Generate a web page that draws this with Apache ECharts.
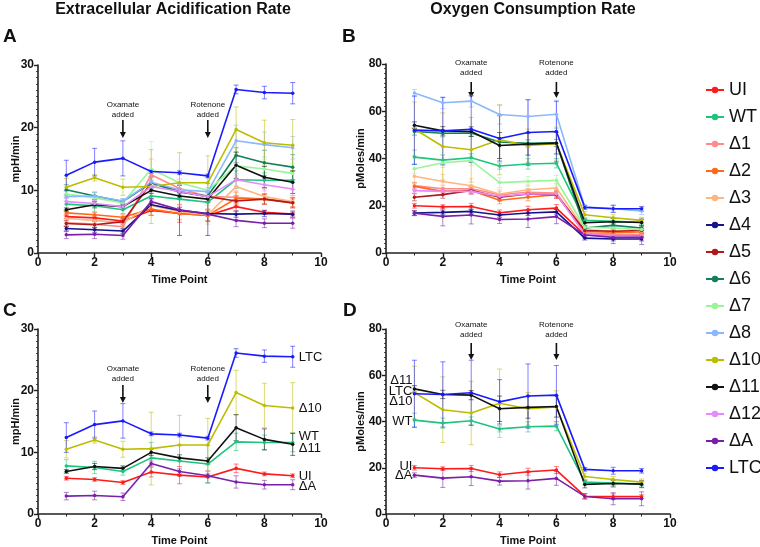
<!DOCTYPE html>
<html><head><meta charset="utf-8">
<script src="https://cdn.jsdelivr.net/npm/echarts/dist/echarts.min.js"></script>
<style>html,body{margin:0;padding:0;background:#fff}#c{width:760px;height:547px}</style>
</head><body><div id="c"></div>
<script>
// ---------- DATA ----------
const timePoints = [1, 2, 3, 4, 5, 6, 7, 8, 9];
const groups = ['UI','WT','Δ1','Δ2','Δ3','Δ4','Δ5','Δ6','Δ7','Δ8','Δ10','Δ11','Δ12','ΔA','LTC'];
const highlightGroups = ['UI','WT','Δ10','Δ11','ΔA','LTC'];
const xTicks = [0, 2, 4, 6, 8, 10];
const ecarTicks = [0, 10, 20, 30];
const ocrTicks = [0, 20, 40, 60, 80];

// ECAR (mpH/min) means
const ecar_UI  = [5.8, 5.6, 5.1, 6.8, 6.3, 6.0, 7.4, 6.5, 6.2];
const ecar_WT  = [7.8, 7.55, 6.9, 9.1, 8.6, 8.1, 11.7, 11.6, 11.6];
const ecar_D1  = [4.8, 4.6, 4.2, 12.5, 10.3, 9.0, 8.9, 8.6, 8.1];
const ecar_D2  = [6.4, 6.1, 5.7, 7.0, 6.3, 6.0, 8.7, 8.6, 8.0];
const ecar_D3  = [5.5, 5.2, 4.8, 7.6, 6.6, 6.1, 10.6, 9.0, 8.2];
const ecar_D4  = [3.9, 3.7, 3.5, 7.7, 6.8, 6.3, 6.2, 6.3, 6.2];
const ecar_D5  = [4.7, 4.5, 5.0, 11.2, 9.8, 9.0, 8.3, 8.6, 8.0];
const ecar_D6  = [10.1, 9.1, 8.2, 11.2, 9.7, 9.1, 15.6, 14.4, 13.7];
const ecar_D7  = [9.4, 8.8, 8.0, 13.4, 11.2, 10.0, 13.9, 13.4, 12.7];
const ecar_D8  = [9.0, 9.1, 8.3, 11.3, 10.1, 9.8, 17.9, 17.3, 16.8];
const ecar_D10 = [10.5, 12.0, 10.5, 10.6, 11.2, 11.2, 19.7, 17.6, 17.2];
const ecar_D11 = [6.9, 7.7, 7.4, 10.0, 9.1, 8.6, 14.0, 12.1, 11.3];
const ecar_D12 = [8.2, 7.9, 7.4, 10.6, 9.8, 9.0, 11.7, 10.9, 10.2];
const ecar_DA  = [2.9, 3.0, 2.8, 8.2, 6.9, 6.2, 5.2, 4.75, 4.75];
const ecar_LTC = [12.4, 14.5, 15.1, 13.0, 12.8, 12.3, 26.1, 25.6, 25.5];
// ECAR error (±)
const ecarErr_UI  = [0.3, 0.3, 0.3, 0.8, 1.4, 1.0, 0.7, 0.3, 0.3];
const ecarErr_WT  = [1.0, 1.0, 0.6, 2.5, 2.5, 3.0, 1.4, 1.2, 1.5];
const ecarErr_D1  = [0.6, 0.5, 0.5, 2.5, 1.5, 1.0, 1.0, 0.8, 0.8];
const ecarErr_D2  = [0.4, 0.4, 0.4, 1.0, 1.0, 0.8, 1.0, 0.8, 0.6];
const ecarErr_D3  = [0.5, 0.5, 0.5, 1.5, 1.2, 1.5, 1.5, 1.2, 1.0];
const ecarErr_D4  = [0.4, 0.4, 0.4, 1.0, 4.0, 3.5, 0.5, 0.5, 0.5];
const ecarErr_D5  = [0.5, 0.5, 0.5, 1.0, 1.0, 0.8, 0.8, 0.8, 0.8];
const ecarErr_D6  = [0.8, 0.6, 0.4, 0.8, 0.6, 0.5, 1.2, 2.0, 2.0];
const ecarErr_D7  = [1.0, 0.8, 0.6, 4.4, 2.0, 2.0, 1.5, 1.5, 1.5];
const ecarErr_D8  = [0.8, 0.6, 0.4, 1.0, 0.8, 0.6, 2.5, 2.0, 1.8];
const ecarErr_D10 = [1.4, 0.5, 1.3, 5.9, 4.8, 4.3, 3.6, 3.6, 4.1];
const ecarErr_D11 = [0.3, 0.5, 0.4, 0.5, 0.5, 0.5, 2.1, 1.7, 1.8];
const ecarErr_D12 = [0.5, 0.5, 0.5, 1.0, 1.0, 0.8, 1.0, 1.0, 1.0];
const ecarErr_DA  = [0.6, 0.7, 0.6, 0.4, 0.4, 0.3, 1.0, 0.7, 0.8];
const ecarErr_LTC = [2.4, 2.2, 2.8, 0.3, 0.3, 0.3, 0.7, 1.0, 1.7];

// OCR (pMoles/min) means
const ocr_UI  = [20.0, 19.6, 19.7, 17.0, 18.3, 19.0, 7.7, 7.5, 7.5];
const ocr_WT  = [40.6, 39.3, 40.3, 36.8, 37.7, 38.0, 13.8, 13.4, 13.0];
const ocr_D1  = [28.5, 27.2, 27.2, 24.7, 25.7, 25.4, 8.5, 8.0, 7.8];
const ocr_D2  = [28.2, 26.1, 26.5, 22.3, 23.6, 24.7, 9.2, 8.7, 8.9];
const ocr_D3  = [32.5, 30.3, 28.5, 25.0, 26.8, 27.5, 9.9, 9.2, 9.2];
const ocr_D4  = [16.9, 17.2, 17.6, 16.1, 16.9, 17.4, 6.3, 5.9, 5.9];
const ocr_D5  = [23.6, 24.7, 26.5, 23.6, 25.0, 24.7, 9.5, 9.2, 9.5];
const ocr_D6  = [51.4, 50.7, 50.8, 47.0, 46.4, 46.6, 10.6, 11.7, 10.6];
const ocr_D7  = [35.7, 38.2, 39.1, 29.8, 30.3, 30.8, 10.9, 10.6, 9.9];
const ocr_D8  = [67.7, 63.6, 64.3, 58.6, 57.8, 58.7, 19.5, 18.8, 17.8];
const ocr_D10 = [52.5, 45.1, 43.7, 47.9, 45.5, 46.3, 16.2, 14.9, 13.8];
const ocr_D11 = [54.1, 51.7, 51.4, 45.5, 46.1, 46.5, 12.8, 13.2, 12.9];
const ocr_D12 = [26.4, 26.1, 26.1, 24.0, 25.0, 25.0, 7.8, 7.3, 7.1];
const ocr_DA  = [16.8, 15.5, 16.1, 14.2, 14.4, 15.4, 7.6, 6.6, 6.6];
const ocr_LTC = [52.0, 51.7, 52.4, 48.5, 51.0, 51.4, 19.3, 18.7, 18.7];
// OCR error (±)
const ocrErr_UI  = [1.0, 0.8, 1.3, 1.2, 1.5, 1.5, 1.0, 1.2, 0.8];
const ocrErr_WT  = [3.0, 2.2, 1.7, 1.3, 2.2, 2.0, 1.0, 1.1, 1.0];
const ocrErr_D1  = [1.5, 1.5, 1.5, 1.5, 1.5, 1.5, 1.0, 1.0, 1.0];
const ocrErr_D2  = [1.5, 1.5, 1.5, 1.5, 1.5, 1.5, 1.0, 1.0, 1.0];
const ocrErr_D3  = [3.0, 3.0, 3.0, 2.0, 2.0, 2.0, 1.0, 1.0, 1.0];
const ocrErr_D4  = [1.0, 1.0, 1.0, 1.0, 1.0, 1.0, 0.8, 0.8, 0.8];
const ocrErr_D5  = [1.5, 1.5, 1.5, 1.5, 1.5, 1.5, 1.0, 1.0, 1.0];
const ocrErr_D6  = [1.5, 1.5, 1.5, 1.5, 1.5, 1.5, 1.0, 1.0, 1.0];
const ocrErr_D7  = [2.0, 2.0, 2.0, 2.0, 2.0, 2.0, 1.0, 1.0, 1.0];
const ocrErr_D8  = [1.5, 2.5, 2.5, 4.0, 7.0, 6.0, 1.0, 1.5, 1.5];
const ocrErr_D10 = [11.4, 14.2, 13.7, 14.8, 7.0, 7.0, 1.4, 1.3, 1.3];
const ocrErr_D11 = [1.4, 1.8, 2.0, 5.5, 4.7, 4.6, 1.5, 1.5, 1.5];
const ocrErr_D12 = [1.0, 1.0, 1.0, 1.0, 1.0, 1.0, 0.8, 0.8, 0.8];
const ocrErr_DA  = [1.0, 4.0, 3.8, 1.7, 3.6, 3.0, 1.2, 2.6, 3.0];
const ocrErr_LTC = [14.5, 14.1, 14.1, 9.6, 13.9, 12.8, 0.8, 1.5, 1.0];

// ---------- BUILD ----------
const ecarMean = {UI:ecar_UI,WT:ecar_WT,'Δ1':ecar_D1,'Δ2':ecar_D2,'Δ3':ecar_D3,'Δ4':ecar_D4,'Δ5':ecar_D5,'Δ6':ecar_D6,'Δ7':ecar_D7,'Δ8':ecar_D8,'Δ10':ecar_D10,'Δ11':ecar_D11,'Δ12':ecar_D12,'ΔA':ecar_DA,LTC:ecar_LTC};
const ecarErr = {UI:ecarErr_UI,WT:ecarErr_WT,'Δ1':ecarErr_D1,'Δ2':ecarErr_D2,'Δ3':ecarErr_D3,'Δ4':ecarErr_D4,'Δ5':ecarErr_D5,'Δ6':ecarErr_D6,'Δ7':ecarErr_D7,'Δ8':ecarErr_D8,'Δ10':ecarErr_D10,'Δ11':ecarErr_D11,'Δ12':ecarErr_D12,'ΔA':ecarErr_DA,LTC:ecarErr_LTC};
const ocrMean = {UI:ocr_UI,WT:ocr_WT,'Δ1':ocr_D1,'Δ2':ocr_D2,'Δ3':ocr_D3,'Δ4':ocr_D4,'Δ5':ocr_D5,'Δ6':ocr_D6,'Δ7':ocr_D7,'Δ8':ocr_D8,'Δ10':ocr_D10,'Δ11':ocr_D11,'Δ12':ocr_D12,'ΔA':ocr_DA,LTC:ocr_LTC};
const ocrErr = {UI:ocrErr_UI,WT:ocrErr_WT,'Δ1':ocrErr_D1,'Δ2':ocrErr_D2,'Δ3':ocrErr_D3,'Δ4':ocrErr_D4,'Δ5':ocrErr_D5,'Δ6':ocrErr_D6,'Δ7':ocrErr_D7,'Δ8':ocrErr_D8,'Δ10':ocrErr_D10,'Δ11':ocrErr_D11,'Δ12':ocrErr_D12,'ΔA':ocrErr_DA,LTC:ocrErr_LTC};

const colors = {UI:'#ff1a1a',WT:'#1ec47e','Δ1':'#ff8a8a','Δ2':'#ff6a1a','Δ3':'#ffb580','Δ4':'#14148c','Δ5':'#b01a1a','Δ6':'#12805a','Δ7':'#9af59a','Δ8':'#8ab8ff','Δ10':'#bdbd00','Δ11':'#111111','Δ12':'#e68aff','ΔA':'#7a1fa8',LTC:'#1a1aff'};

const FONT = 'Liberation Sans, Arial, Helvetica, sans-serif';
const grids = [
  {left:38, top:65, width:283, height:188},
  {left:386, top:64, width:284, height:189},
  {left:38, top:329, width:283, height:189},
  {left:386, top:329, width:284, height:189}
];

function xAxis(i){
  return {gridIndex:i, type:'value', min:0, max:10, interval:xTicks[1]-xTicks[0],
    name:'Time Point', nameLocation:'middle', nameGap:21,
    nameTextStyle:{fontFamily:FONT, fontWeight:'bold', fontSize:11, color:'#111'},
    axisLine:{show:true, lineStyle:{color:'#222', width:1.6}},
    axisTick:{show:true, length:4, lineStyle:{color:'#222', width:1.4}},
    minorTick:{show:true, splitNumber:2, length:2.5, lineStyle:{color:'#222', width:1}},
    axisLabel:{fontFamily:FONT, fontWeight:'bold', fontSize:12, color:'#111', margin:4},
    splitLine:{show:false}};
}
function yAxis(i, ticks, name){
  return {gridIndex:i, type:'value', min:ticks[0], max:ticks[ticks.length-1], interval:ticks[1]-ticks[0],
    name:name, nameLocation:'middle', nameGap:name==='mpH/min'?17:20, nameMoveOverlap:false,
    nameTextStyle:{fontFamily:FONT, fontWeight:'bold', fontSize:11, color:'#111'},
    axisLine:{show:true, lineStyle:{color:'#222', width:1.6}},
    axisTick:{show:true, length:4, lineStyle:{color:'#222', width:1.4}},
    minorTick:{show:true, splitNumber:10, length:2, lineStyle:{color:'#222', width:0.8}},
    axisLabel:{fontFamily:FONT, fontWeight:'bold', fontSize:12, color:'#111', margin:4},
    splitLine:{show:false}};
}

function errItem(params, api){
  const x = api.value(0), lo = api.value(1), hi = api.value(2);
  const t = api.coord([x, hi]), b = api.coord([x, lo]);
  const st = {stroke: api.visual('color'), lineWidth: 1, opacity: 0.55};
  return {type:'group', children:[
    {type:'line', shape:{x1:t[0],y1:t[1],x2:b[0],y2:b[1]}, style:st},
    {type:'line', shape:{x1:t[0]-2.5,y1:t[1],x2:t[0]+2.5,y2:t[1]}, style:st},
    {type:'line', shape:{x1:b[0]-2.5,y1:b[1],x2:b[0]+2.5,y2:b[1]}, style:st}
  ]};
}

const series = [];
function addPanel(gi, names, means, errs){
  names.forEach(n => {
    series.push({type:'custom', name:n+'_err', xAxisIndex:gi, yAxisIndex:gi,
      itemStyle:{color:colors[n]}, renderItem:errItem, encode:{x:0, y:[1,2]},
      data: timePoints.map((t,k)=>[t, means[n][k]-errs[n][k], means[n][k]+errs[n][k]]), z:2});
  });
  names.forEach(n => {
    series.push({type:'line', name:n, xAxisIndex:gi, yAxisIndex:gi,
      data: timePoints.map((t,k)=>[t, means[n][k]]),
      color: colors[n], symbol:'circle', symbolSize:3.5,
      lineStyle:{width:1.6, color:colors[n]}, itemStyle:{color:colors[n]}, z:3});
  });
}
addPanel(0, groups, ecarMean, ecarErr);
addPanel(1, groups, ocrMean, ocrErr);
addPanel(2, highlightGroups, ecarMean, ecarErr);
addPanel(3, highlightGroups, ocrMean, ocrErr);

const chart = echarts.init(document.getElementById('c'), null, {renderer:'canvas'});
chart.setOption({
  animation:false,
  backgroundColor:'#fff',
  textStyle:{fontFamily:FONT},
  grid: grids,
  xAxis: [0,1,2,3].map(xAxis),
  yAxis: [yAxis(0, ecarTicks,'mpH/min'), yAxis(1, ocrTicks,'pMoles/min'), yAxis(2, ecarTicks,'mpH/min'), yAxis(3, ocrTicks,'pMoles/min')],
  legend: {data: groups, orient:'vertical', left:700, top:76, itemWidth:18, itemHeight:8, itemGap:9,
    textStyle:{fontFamily:FONT, fontSize:18, color:'#111', lineHeight:18}},
  series: series
});

// ---------- ANNOTATIONS ----------
const g = [];
const txt = (x,y,s,opt) => g.push(Object.assign({type:'text', x:x, y:y, style:Object.assign({text:s, fontFamily:FONT, fill:'#111'}, opt)}));
txt(173, 2, 'Extracellular Acidification Rate', {fontSize:16, fontWeight:'bold', align:'center'});
txt(533, 2, 'Oxygen Consumption Rate', {fontSize:16, fontWeight:'bold', align:'center'});
txt(3, 27, 'A', {fontSize:19, fontWeight:'bold'});
txt(342, 27, 'B', {fontSize:19, fontWeight:'bold'});
txt(3, 301, 'C', {fontSize:19, fontWeight:'bold'});
txt(343, 301, 'D', {fontSize:19, fontWeight:'bold'});

function arrowNote(gi, xVal, label, textTop, arrTop, arrTip){
  const px = chart.convertToPixel({gridIndex:gi}, [xVal, 0])[0];
  const top = grids[gi].top;
  txt(px, top+textTop, label[0], {fontSize:8, align:'center'});
  txt(px, top+textTop+9.5, label[1], {fontSize:8, align:'center'});
  g.push({type:'line', shape:{x1:px, y1:top+arrTop, x2:px, y2:top+arrTip-5}, style:{stroke:'#111', lineWidth:1.6}});
  g.push({type:'polygon', shape:{points:[[px-3,top+arrTip-6],[px+3,top+arrTip-6],[px,top+arrTip]]}, style:{fill:'#111'}});
}
arrowNote(0, 3, ['Oxamate','added'], 36, 55, 73);
arrowNote(0, 6, ['Rotenone','added'], 36, 55, 73);
arrowNote(2, 3, ['Oxamate','added'], 36, 56, 74);
arrowNote(2, 6, ['Rotenone','added'], 36, 56, 74);
arrowNote(1, 3, ['Oxamate','added'], -5, 18, 34);
arrowNote(1, 6, ['Rotenone','added'], -5, 18, 34);
arrowNote(3, 3, ['Oxamate','added'], -8, 14, 31);
arrowNote(3, 6, ['Rotenone','added'], -8, 14, 31);

// group labels in C (right of last point) and D (left of first point)
const labelsC = [['LTC',25.4],['Δ10',17.2],['WT',12.6],['Δ11',10.7],['UI',6.1],['ΔA',4.4]];
labelsC.forEach(([s,v]) => {
  const p = chart.convertToPixel({gridIndex:2}, [timePoints[8], v]);
  txt(p[0]+6, p[1], s, {fontSize:13, verticalAlign:'middle'});
});
const labelsD = [['Δ11',57.7],['LTC',53.2],['Δ10',48.6],['WT',40.1],['UI',20.4],['ΔA',16.5]];
labelsD.forEach(([s,v]) => {
  const p = chart.convertToPixel({gridIndex:3}, [timePoints[0], v]);
  txt(p[0]-2, p[1], s, {fontSize:13, verticalAlign:'middle', align:'right'});
});
chart.setOption({graphic: g});
</script>
</body></html>
